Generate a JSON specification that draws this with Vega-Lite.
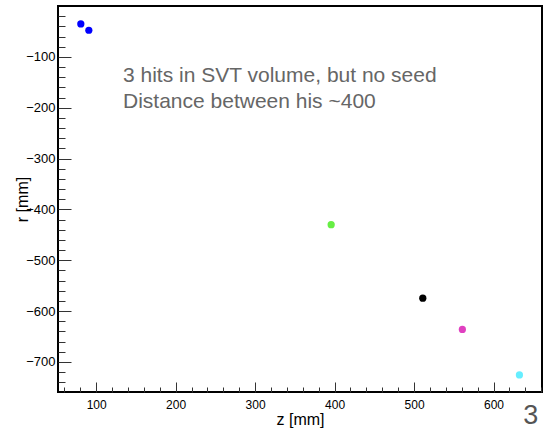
{
  "$schema": "https://vega.github.io/schema/vega-lite/v6.json",
  "width": 484,
  "height": 386,
  "autosize": "none",
  "padding": {"left": 58, "top": 6, "right": 1, "bottom": 39},
  "background": "white",
  "config": {
    "view": {"stroke": "black", "strokeWidth": 2},
    "font": "Liberation Sans",
    "axis": {"grid": false, "domain": false, "labelColor": "black", "tickColor": "#333", "tickWidth": 1, "titleColor": "black", "titleFontWeight": "normal", "labelFont": "Liberation Sans", "titleFont": "Liberation Sans"}
  },
  "datasets": {
    "hits": [
      {"hit": "1", "group": "blue", "z": 80.7, "r": -35.2},
      {"hit": "2", "group": "blue", "z": 90.8, "r": -47.7},
      {"hit": "3", "group": "green", "z": 395.7, "r": -430},
      {"hit": "4", "group": "black", "z": 511, "r": -574.5},
      {"hit": "5", "group": "magenta", "z": 560.8, "r": -636},
      {"hit": "6", "group": "cyan", "z": 632.6, "r": -725.5}
    ],
    "notes": [
      {"label": "3 hits in SVT volume, but no seed", "z": 133.8, "r": -137.6},
      {"label": "Distance between his ~400", "z": 133.8, "r": -188.8}
    ],
    "page": [
      {"label": "3", "z": 647, "r": -806}
    ]
  },
  "layer": [
    {
      "data": {"name": "hits"},
      "mark": {"type": "circle", "size": 52, "opacity": 1},
      "encoding": {
        "x": {"field": "z", "type": "quantitative",
          "scale": {"domain": [52, 661], "nice": false, "zero": false},
          "axis": {"orient": "bottom", "values": [100, 200, 300, 400, 500, 600], "tickSize": -10, "labelFontSize": 12, "labelPadding": 17, "title": "z [mm]", "titleFontSize": 16, "titlePadding": 1}
        },
        "y": {"field": "r", "type": "quantitative",
          "scale": {"domain": [-759, 0], "nice": false, "zero": false},
          "axis": {"orient": "left", "values": [-700, -600, -500, -400, -300, -200, -100], "tickSize": -13, "labelFontSize": 13, "labelPadding": 16, "title": "r [mm]", "titleFontSize": 16, "titlePadding": -5}
        },
        "color": {"field": "group", "type": "nominal",
          "scale": {"domain": ["blue", "green", "black", "magenta", "cyan"], "range": ["#0000ff", "#66ee44", "#000000", "#e040c0", "#66eeff"]},
          "legend": null}
      }
    },
    {
      "data": {"name": "notes"},
      "mark": {"type": "text", "align": "left", "baseline": "middle", "fontSize": 21, "color": "#666666", "font": "Liberation Sans"},
      "encoding": {
        "x": {"field": "z", "type": "quantitative",
          "axis": {"orient": "bottom", "values": [60, 80, 120, 140, 160, 180, 220, 240, 260, 280, 320, 340, 360, 380, 420, 440, 460, 480, 520, 540, 560, 580, 620, 640, 660], "tickSize": -5, "labels": false, "title": null}
        },
        "y": {"field": "r", "type": "quantitative",
          "axis": {"orient": "left", "values": [-740, -720, -680, -660, -640, -620, -580, -560, -540, -520, -480, -460, -440, -420, -380, -360, -340, -320, -280, -260, -240, -220, -180, -160, -140, -120, -80, -60, -40, -20], "tickSize": -7, "labels": false, "title": null}
        },
        "text": {"field": "label"}
      }
    },
    {
      "data": {"name": "page"},
      "mark": {"type": "text", "align": "center", "baseline": "middle", "fontSize": 27, "color": "#555555", "font": "Liberation Sans"},
      "encoding": {
        "x": {"field": "z", "type": "quantitative", "axis": null},
        "y": {"field": "r", "type": "quantitative", "axis": null},
        "text": {"field": "label"}
      }
    }
  ],
  "resolve": {"axis": {"x": "independent", "y": "independent"}}
}
